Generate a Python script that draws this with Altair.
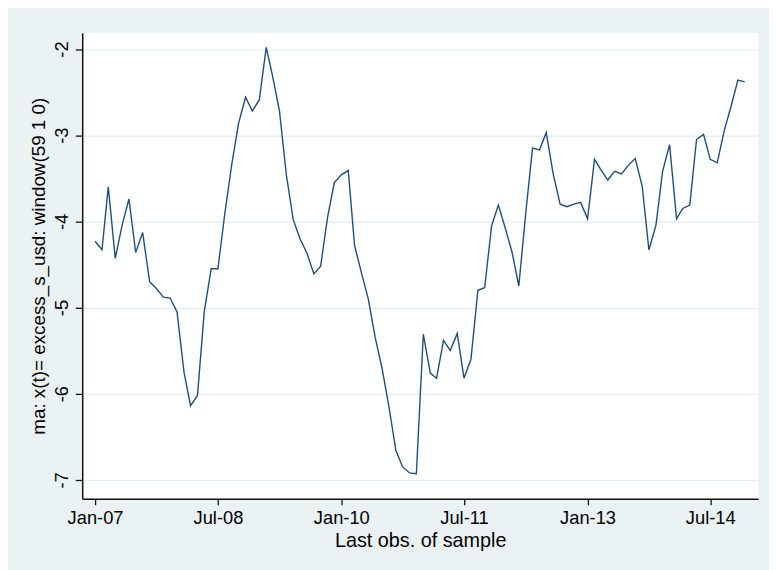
import altair as alt
import pandas as pd

# Monthly observations, Jan-2007 .. Dec-2014
start_month = "2007-01-01"
n_months = 96
values = [
    -4.23, -4.33, -3.60, -4.43, -4.05, -3.74, -4.36, -4.13, -4.70, -4.78, -4.88, -4.89,
    -5.05, -5.75, -6.14, -6.02, -5.05, -4.55, -4.55, -3.90, -3.33, -2.86, -2.56, -2.72,
    -2.59, -1.98, -2.31, -2.72, -3.45, -3.98, -4.20, -4.37, -4.61, -4.52, -3.95, -3.55,
    -3.46, -3.41, -4.28, -4.60, -4.90, -5.35, -5.70, -6.15, -6.66, -6.85, -6.92, -6.93,
    -5.31, -5.76, -5.82, -5.38, -5.50, -5.30, -5.82, -5.60, -4.80, -4.77, -4.05, -3.81,
    -4.08, -4.37, -4.75, -3.90, -3.15, -3.17, -2.97, -3.45, -3.80, -3.83, -3.80, -3.78,
    -3.97, -3.28, -3.40, -3.52, -3.42, -3.45, -3.35, -3.27, -3.59, -4.33, -4.05, -3.42,
    -3.11, -3.97, -3.85, -3.81, -3.05, -2.99, -3.28, -3.32, -2.95, -2.67, -2.36, -2.38,
]
y_ticks = [-7, -6, -5, -4, -3, -2]
x_tick_dates = [(2007, 1), (2008, 7), (2010, 1), (2011, 7), (2013, 1), (2014, 7)]
x_title = "Last obs. of sample"
y_title = "ma: x(t)= excess_s_usd: window(59 1 0)"

dates = pd.date_range(start_month, periods=n_months, freq="MS").strftime("%Y-%m-%d").tolist()
df = pd.DataFrame({"date": dates, "value": values})

FONT = "Liberation Sans, Arial, Helvetica, sans-serif"

x_vals = [alt.DateTime(year=y, month=m, date=1, utc=True) for y, m in x_tick_dates]

chart = alt.Chart(df).mark_line(color="#1F4E7A", strokeWidth=1.4).encode(
    x=alt.X(
        "date:T",
        scale=alt.Scale(
            type="utc",
            domain=[alt.DateTime(year=2006, month=11, date=5, utc=True),
                    alt.DateTime(year=2015, month=1, date=30, utc=True)],
            nice=False,
        ),
        axis=alt.Axis(
            values=x_vals,
            format="%b-%y",
            title=x_title,
            grid=False,
            tickSize=6,
            labelPadding=4,
            titleY=48,
            titleBaseline="alphabetic",
            titleFontSize=20,
        ),
    ),
    y=alt.Y(
        "value:Q",
        scale=alt.Scale(domain=[-7.22, -1.81], nice=False, zero=False),
        axis=alt.Axis(
            values=y_ticks,
            labelExpr="datum.value < 0 ? '-' + format(-datum.value, 'd') : format(datum.value, 'd')",
            labelAngle=270,
            labelAlign="center",
            labelBaseline="alphabetic",
            labelPadding=8,
            tickSize=7,
            title=y_title,
            titleAngle=270,
            titleBaseline="alphabetic",
            titleX=-38,
            grid=True,
            gridColor="#E3EDF0",
            gridWidth=1.2,
        ),
    ),
).properties(
    width=683,
    height=471,
    autosize=alt.AutoSizeParams(type="none"),
    padding={"left": 75, "top": 22, "right": 11, "bottom": 69},
    background="#EAF2F3",
).configure_view(
    fill="white",
    strokeWidth=0,
).configure_axis(
    labelFont=FONT,
    titleFont=FONT,
    labelFontSize=18.5,
    titleFontSize=19,
    labelColor="#000000",
    titleColor="#000000",
    titleFontWeight="normal",
    domainColor="#111111",
    domainWidth=1.5,
    tickColor="#111111",
    tickWidth=1.3,
)

chart.save("out.html", embed_options={"renderer": "svg", "actions": False})
